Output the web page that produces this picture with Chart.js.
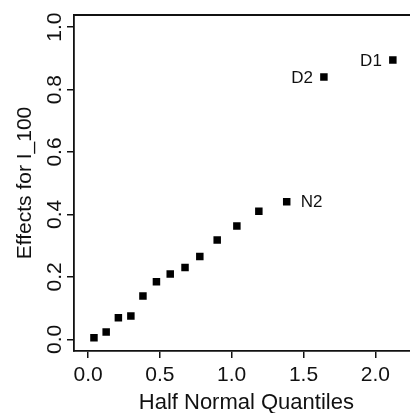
<!DOCTYPE html>
<html>
<head>
<meta charset="utf-8">
<script src="https://cdn.jsdelivr.net/npm/chart.js@4.4.0/dist/chart.umd.min.js"></script>
<style>
  html, body { margin: 0; padding: 0; background: #fff; overflow: hidden; }
  #wrap { width: 424px; height: 413px; }
</style>
</head>
<body>
<div id="wrap"><canvas id="myChart"></canvas></div>
<script>
// half normal quantiles and effects
let quantiles = [0.041, 0.126, 0.211, 0.298, 0.382, 0.476, 0.572, 0.675, 0.778, 0.899, 1.036, 1.189, 1.383, 1.642, 2.122];
let effects = [0.005, 0.023, 0.069, 0.075, 0.139, 0.184, 0.209, 0.230, 0.265, 0.318, 0.363, 0.410, 0.441, 0.840, 0.895];
let pointNames = ["", "", "", "", "", "", "", "", "", "", "", "", "N2", "D2", "D1"];

let xTicks = [0, 0.5, 1, 1.5, 2];
let yTicks = [0, 0.2, 0.4, 0.6, 0.8, 1];
let xTitle = "Half Normal Quantiles";
let yTitle = "Effects for I_100";

let font = "'Liberation Sans', Arial, Helvetica, sans-serif";
let ink = "#111";

// draws the frame, tick labels, titles and the point names
let textPlugin = {
  id: "textPlugin",
  beforeDraw(chart) {
    let ctx = chart.ctx;
    ctx.save();
    ctx.fillStyle = "#fff";
    ctx.fillRect(0, 0, chart.width, chart.height);
    ctx.restore();
  },
  afterDraw(chart) {
    let ctx = chart.ctx;
    let area = chart.chartArea;
    let xs = chart.scales.x;
    let ys = chart.scales.y;
    ctx.save();

    // top and right sides of the box
    ctx.strokeStyle = ink;
    ctx.lineWidth = 1.8;
    ctx.beginPath();
    ctx.moveTo(area.left, area.top);
    ctx.lineTo(area.right, area.top);
    ctx.lineTo(area.right, area.bottom);
    ctx.stroke();

    ctx.fillStyle = ink;

    // x tick labels
    ctx.font = "21px " + font;
    ctx.textAlign = "center";
    ctx.textBaseline = "alphabetic";
    xTicks.forEach((v) => {
      ctx.fillText(v.toFixed(1), xs.getPixelForValue(v), 381);
    });

    // x title
    ctx.font = "22px " + font;
    ctx.fillText(xTitle, (area.left + area.right) / 2, 409);

    // y tick labels, rotated
    yTicks.forEach((v) => {
      ctx.save();
      ctx.translate(61, ys.getPixelForValue(v));
      ctx.rotate(-Math.PI / 2);
      ctx.font = "21px " + font;
      ctx.textAlign = "center";
      ctx.fillText(v.toFixed(1), 0, 0);
      ctx.restore();
    });

    // y title
    ctx.save();
    ctx.translate(31, (area.top + area.bottom) / 2);
    ctx.rotate(-Math.PI / 2);
    ctx.font = "21px " + font;
    ctx.textAlign = "center";
    ctx.fillText(yTitle, 0, 0);
    ctx.restore();

    // names next to the big effects
    ctx.font = "17px " + font;
    ctx.textBaseline = "middle";
    pointNames.forEach((name, i) => {
      if (!name) return;
      let px = xs.getPixelForValue(quantiles[i]);
      let py = ys.getPixelForValue(effects[i]);
      if (name == "N2") {
        ctx.textAlign = "left";
        ctx.fillText(name, px + 14, py + 1);
      } else {
        ctx.textAlign = "right";
        ctx.fillText(name, px - 11, py + 1);
      }
    });

    ctx.restore();
  },
};

let ctx = document.getElementById("myChart").getContext("2d");
let myChart = new Chart(ctx, {
  type: "scatter",
  data: {
    datasets: [
      {
        data: quantiles.map((q, i) => ({ x: q, y: effects[i] })),
        pointStyle: "rect",
        pointRadius: 5.3,
        backgroundColor: "#000",
        borderColor: "#000",
        borderWidth: 0,
      },
    ],
  },
  options: {
    responsive: true,
    maintainAspectRatio: false,
    animation: false,
    layout: { padding: { top: 15, left: 0, right: 0, bottom: 0 } },
    plugins: {
      legend: { display: false },
      tooltip: { enabled: false },
    },
    scales: {
      x: {
        type: "linear",
        min: -0.098,
        max: 2.302,
        ticks: { display: false },
        afterBuildTicks: (scale) => {
          scale.ticks = xTicks.map((v) => ({ value: v }));
        },
        afterFit: (scale) => {
          scale.height = 62;
        },
        grid: {
          drawOnChartArea: false,
          drawTicks: true,
          tickLength: 7,
          color: ink,
          lineWidth: 1.5,
        },
        border: { display: true, color: ink, width: 1.8 },
      },
      y: {
        type: "linear",
        min: -0.0375,
        max: 1.039,
        ticks: { display: false },
        afterBuildTicks: (scale) => {
          scale.ticks = yTicks.map((v) => ({ value: v }));
        },
        afterFit: (scale) => {
          scale.width = 74;
        },
        grid: {
          drawOnChartArea: false,
          drawTicks: true,
          tickLength: 7,
          color: ink,
          lineWidth: 1.5,
        },
        border: { display: true, color: ink, width: 1.8 },
      },
    },
  },
  plugins: [textPlugin],
});
</script>
</body>
</html>
